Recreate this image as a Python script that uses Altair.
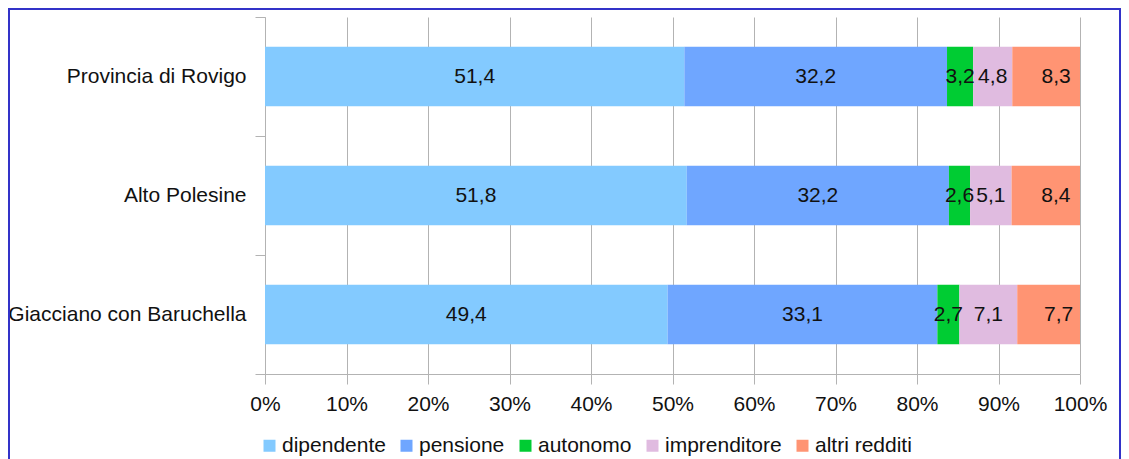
import altair as alt
import pandas as pd

areas = ["Provincia di Rovigo", "Alto Polesine", "Giacciano con Baruchella"]
series = ["dipendente", "pensione", "autonomo", "imprenditore", "altri redditi"]
colors = ["#83CAFF", "#6FA6FF", "#00CC33", "#E0BBE0", "#FF9473"]
values = {
    "Provincia di Rovigo": [51.4, 32.2, 3.2, 4.8, 8.3],
    "Alto Polesine": [51.8, 32.2, 2.6, 5.1, 8.4],
    "Giacciano con Baruchella": [49.4, 33.1, 2.7, 7.1, 7.7],
}
x_ticks = [i / 10 for i in range(11)]

rows = []
for a in areas:
    for i, (s, v) in enumerate(zip(series, values[a])):
        rows.append({"area": a, "serie": s, "ord": i, "v": v,
                     "lbl": f"{v:.1f}".replace(".", ",")})
df = pd.DataFrame(rows)

FONT = "Liberation Sans"
FS = 21

y_enc = alt.Y("area:N", sort=areas, title=None,
              scale=alt.Scale(paddingInner=0, paddingOuter=0),
              axis=alt.Axis(tickBand="extent", labelFontSize=FS, labelFont=FONT,
                            labelColor="#111111", labelPadding=9, tickSize=10,
                            tickColor="#b3b3b3", domainColor="#b3b3b3", grid=False,
                            labelLimit=400))

bars = alt.Chart(df).mark_bar(height={"band": 0.5}).encode(
    x=alt.X("v:Q", stack="normalize", title=None,
            scale=alt.Scale(domain=[0, 1], nice=False),
            axis=alt.Axis(values=x_ticks, format=".0%", labelFontSize=FS,
                          labelFont=FONT, labelColor="#111111", tickSize=10,
                          tickColor="#b3b3b3", domainColor="#b3b3b3",
                          gridColor="#b3b3b3", labelPadding=9, labelFlush=False)),
    y=y_enc,
    color=alt.Color("serie:N", sort=series,
                    scale=alt.Scale(domain=series, range=colors),
                    legend=alt.Legend(title=None, orient="none", direction="horizontal",
                                      legendX=-6, legendY=418, symbolType="square",
                                      symbolSize=144, symbolStrokeWidth=0,
                                      labelFontSize=FS, labelFont=FONT,
                                      labelColor="#111111", labelOffset=2,
                                      columnPadding=10, labelLimit=300)),
    order=alt.Order("ord:Q"),
)

base_text = alt.Chart(df).transform_stack(
    stack="v", groupby=["area"], as_=["s0", "s1"], offset="normalize",
    sort=[alt.SortField("ord", order="ascending")]
).transform_calculate(
    mid="(datum.s0 + datum.s1) / 2"
)

texts = base_text.transform_filter("datum.serie != 'altri redditi'").mark_text(
    fontSize=FS, font=FONT, color="#111111").encode(
    x=alt.X("mid:Q"),
    y=alt.Y("area:N", sort=areas),
    text="lbl:N",
)
texts_last = base_text.transform_filter("datum.serie == 'altri redditi'").mark_text(
    fontSize=FS, font=FONT, color="#111111", dx=10).encode(
    x=alt.X("mid:Q"),
    y=alt.Y("area:N", sort=areas),
    text="lbl:N",
)

frame = alt.Chart(alt.Data(values=[{"k": 1}])).mark_rect(
    fill=None, filled=False, stroke="#3232C8", strokeWidth=2
).encode(
    x=alt.value(-256), x2=alt.value(855), y=alt.value(-8), y2=alt.value(470)
)

chart = alt.layer(bars, texts, texts_last, frame).properties(
    width=815, height=357,
    autosize=alt.AutoSizeParams(type="none"),
    padding={"left": 257, "top": 9, "right": 41, "bottom": 85},
).configure_view(stroke=None).configure_axis(
    gridColor="#b3b3b3"
)

chart.save("out.html", embed_options={"renderer": "svg", "actions": False})
